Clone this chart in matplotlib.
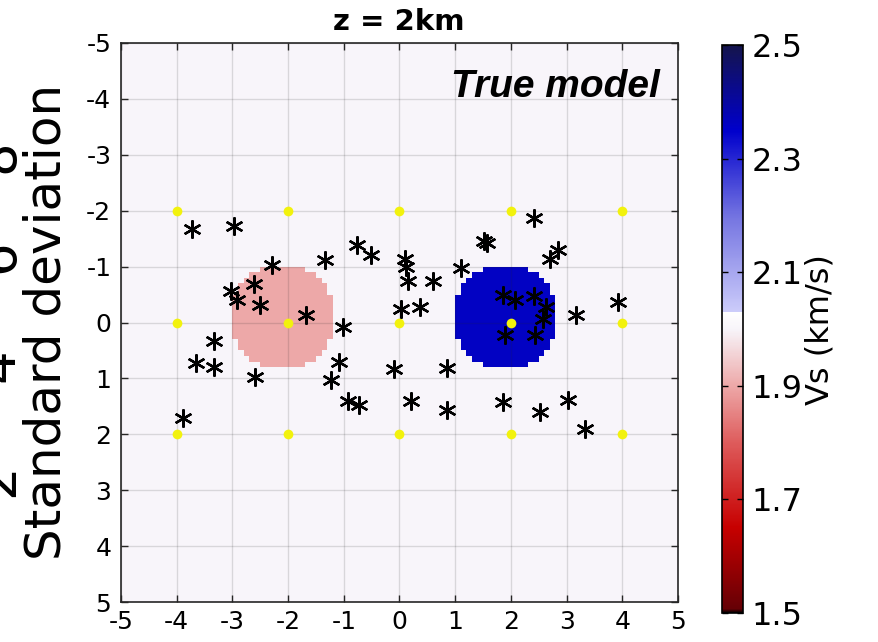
import numpy as np
import matplotlib
matplotlib.use("Agg")
import matplotlib.pyplot as plt
from matplotlib.colors import LinearSegmentedColormap, Normalize

plt.rcParams["axes.unicode_minus"] = False

# velocity model: background and two circular anomalies (x, y, radius, Vs)
vs_background = 2.0
anomaly_x = [-2.1, 1.9]
anomaly_y = [-0.1, -0.1]
anomaly_r = [0.95, 0.95]
anomaly_vs = [1.9, 2.36]
cell = 0.1

# receiver grid (yellow dots)
grid_x = [-4, -2, 0, 2, 4]
grid_y = [-2, 0, 2]

# event locations (asterisks)
event_x = [-3.72, -2.98, -2.29, -2.62, -3.02, -2.92, -2.50, -1.67, -1.34, -0.77,
           -0.51, 0.09, 0.12, 0.15, 0.60, 0.03, 0.36, 1.10, 1.52, 1.57,
           -1.02, -3.33, -3.66, -3.33, -2.59, -1.08, -1.23, -0.93, -0.73, -0.09,
           0.20, 0.85, 0.85, -3.88, 2.41, 2.85, 2.71, 1.86, 2.08, 2.41,
           2.63, 2.57, 1.90, 2.44, 3.17, 3.92, 1.86, 2.53, 3.02, 3.33]
event_y = [-1.67, -1.72, -1.02, -0.69, -0.56, -0.40, -0.32, -0.14, -1.11, -1.38,
           -1.20, -1.14, -0.99, -0.75, -0.74, -0.24, -0.27, -0.98, -1.45, -1.42,
           0.08, 0.33, 0.72, 0.80, 0.97, 0.71, 1.02, 1.41, 1.48, 0.83,
           1.41, 0.81, 1.57, 1.71, -1.87, -1.29, -1.13, -0.50, -0.40, -0.48,
           -0.28, -0.07, 0.23, 0.23, -0.14, -0.36, 1.42, 1.61, 1.38, 1.91]

ticks = [-5, -4, -3, -2, -1, 0, 1, 2, 3, 4, 5]
cbar_ticks = [1.5, 1.7, 1.9, 2.1, 2.3, 2.5]
vmin, vmax = 1.5, 2.5

# red-white-blue map with a jump to lavender just above the background value
cmap_nodes = [
    (1.500, (0.02, 0.00, 0.00)),
    (1.507, (0.40, 0.00, 0.02)),
    (1.650, (0.78, 0.00, 0.00)),
    (1.800, (0.87, 0.36, 0.36)),
    (1.900, (0.93, 0.66, 0.66)),
    (2.000, (0.97, 0.96, 0.98)),
    (2.030, (1.00, 1.00, 1.00)),
    (2.030, (0.80, 0.80, 0.98)),
    (2.200, (0.45, 0.45, 0.88)),
    (2.350, (0.00, 0.00, 0.80)),
    (2.500, (0.08, 0.08, 0.30)),
]
cmap = LinearSegmentedColormap.from_list(
    "vs", [((v - vmin) / (vmax - vmin), c) for v, c in cmap_nodes], N=512)
norm = Normalize(vmin, vmax)

edges = np.arange(-5, 5 + cell / 2, cell)
centers = 0.5 * (edges[:-1] + edges[1:])
X, Y = np.meshgrid(centers, centers)
vs = np.full(X.shape, vs_background)
for cx, cy, r, v in zip(anomaly_x, anomaly_y, anomaly_r, anomaly_vs):
    vs[(X - cx) ** 2 + (Y - cy) ** 2 <= r ** 2] = v

fig = plt.figure(figsize=(8.79, 6.42), dpi=100)
W, H = 879, 642
ax = fig.add_axes([121 / W, 1 - 602 / H, 557 / W, 559 / H])
cax = fig.add_axes([722 / W, 1 - 613 / H, 21 / W, 568 / H])

ax.pcolormesh(edges, edges, vs, cmap=cmap, norm=norm, shading="flat", zorder=0)
ax.set_xlim(-5, 5)
ax.set_ylim(5, -5)
ax.set_xticks(ticks)
ax.set_yticks(ticks)
ax.grid(True, color=(0.15, 0.15, 0.15), alpha=0.15, linewidth=1.0, zorder=1)
ax.set_axisbelow(False)

gx, gy = np.meshgrid(grid_x, grid_y)
ax.plot(gx.ravel(), gy.ravel(), "o", color=(0.95, 0.95, 0.05),
        markersize=7, markeredgewidth=0, zorder=3)
ax.plot(event_x, event_y, linestyle="none", marker=(6, 2, 0), color="black",
        markersize=13, markeredgewidth=1.7, zorder=4)

ax.tick_params(direction="in", length=5, width=1, top=True, right=True,
               labelsize=18, color=(0.15, 0.15, 0.15))
ax.tick_params(axis="y", pad=7)
ax.tick_params(axis="x", pad=6)
for s in ax.spines.values():
    s.set_linewidth(1.2)
    s.set_color((0.15, 0.15, 0.15))

cb = fig.colorbar(matplotlib.cm.ScalarMappable(norm=norm, cmap=cmap), cax=cax)
cb.set_ticks(cbar_ticks)
cb.ax.tick_params(direction="in", length=4, width=1, left=True, right=True,
                  labelsize=23, pad=6)
cb.outline.set_linewidth(1.2)

fig.text(399 / W, 1 - 22 / H, "z = 2km", fontsize=21, fontweight="bold",
         ha="center", va="center")
fig.text(660 / W, 1 - 97 / H, "True model", fontsize=28, fontweight="bold",
         fontstyle="italic", family="Liberation Sans", ha="right", va="baseline")
fig.text(820 / W, 1 - 330 / H, "Vs (km/s)", fontsize=23, rotation=90,
         ha="center", va="center")

fig.text(61 / W, 1 - 322 / H, "Standard deviation", fontsize=36, rotation=90,
         rotation_mode="anchor", ha="center", va="baseline")
for label, ypx in zip(["2", "4", "6", "8"], [480, 365, 256, 156]):
    fig.text(13 / W, 1 - ypx / H, label, fontsize=38, rotation=90,
             rotation_mode="anchor", ha="center", va="baseline")

fig.savefig("out.png", dpi=100)
